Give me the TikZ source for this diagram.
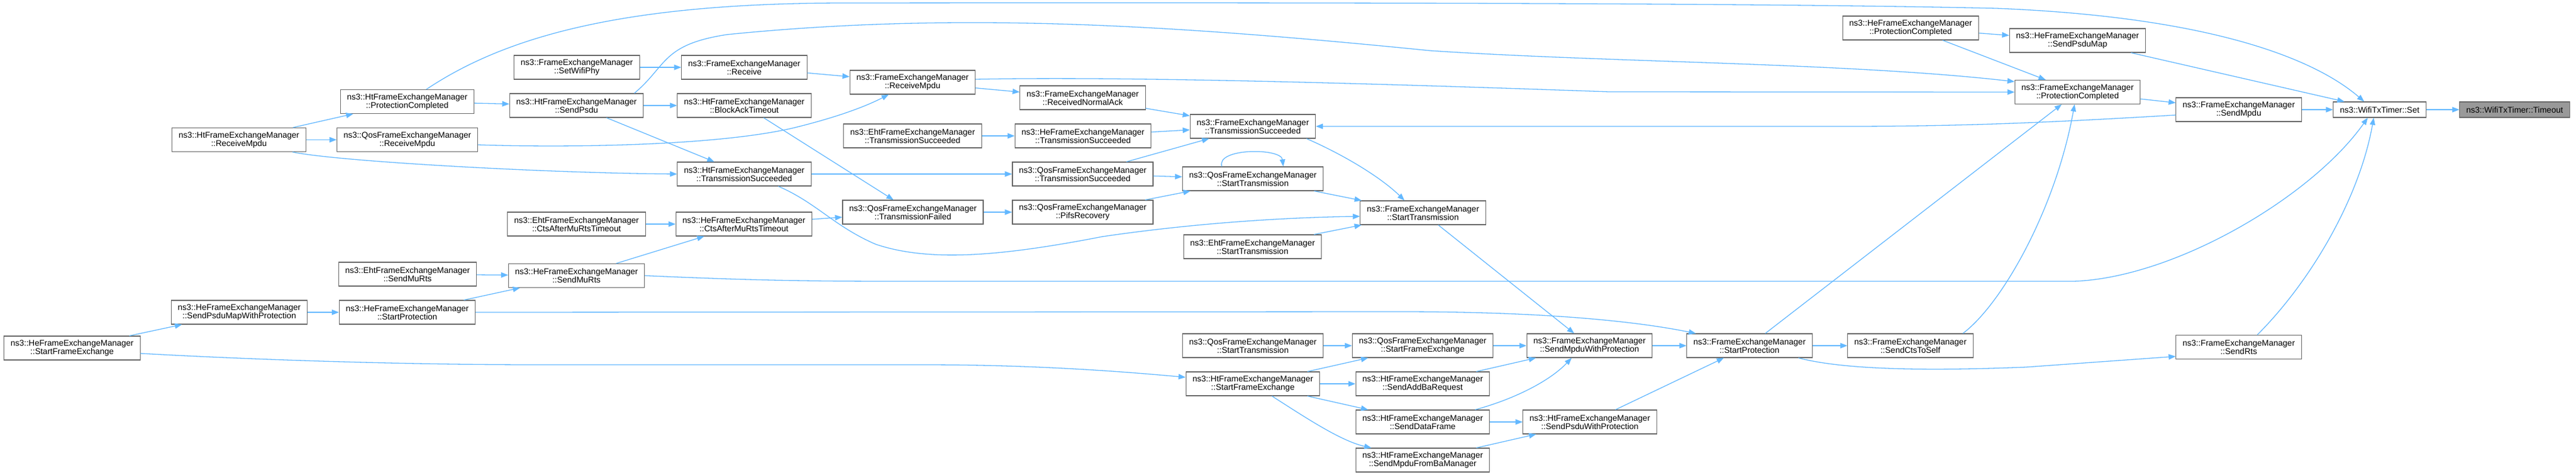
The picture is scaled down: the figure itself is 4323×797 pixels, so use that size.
\documentclass[tikz,border=0pt]{standalone}
\usepackage{fontspec}
\setmainfont{Liberation Sans}
\usepackage{tikz}
\usetikzlibrary{arrows.meta}
\definecolor{edgeblue}{HTML}{63B8FF}
\definecolor{boxgray}{HTML}{666666}
\definecolor{tgtgray}{HTML}{999999}

\begin{document}
\begin{tikzpicture}[x=1pt,y=-1pt,
  fn/.style={draw=boxgray,fill=white,line width=1.1pt,align=center,inner xsep=11pt,inner ysep=2pt,minimum height=40pt,font=\fontsize{14}{14}\selectfont},
  fnone/.style={fn,minimum height=26pt},
  fntarget/.style={fnone,fill=tgtgray},
  call/.style={draw=edgeblue,line width=1.3pt,-{Triangle[length=12pt,width=9pt]}}]
\path[use as bounding box,fill=white] (0,0) rectangle (4323,797);

\node[fn] (HtRecvMpdu) at (401,234.5) {ns3::HtFrameExchangeManager\\::ReceiveMpdu};
\node[fn] (HtProtCompl) at (683.5,170.5) {ns3::HtFrameExchangeManager\\::ProtectionCompleted};
\node[fn] (QosRecvMpdu) at (683.5,234.5) {ns3::QosFrameExchangeManager\\::ReceiveMpdu};
\node[fn] (HeStartFE) at (121,584) {ns3::HeFrameExchangeManager\\::StartFrameExchange};
\node[fn] (HeSendPsduMapWP) at (401.5,524) {ns3::HeFrameExchangeManager\\::SendPsduMapWithProtection};
\node[fn] (HeStartProt) at (683.5,524) {ns3::HeFrameExchangeManager\\::StartProtection};
\node[fn] (EhtSendMuRts) at (684,460) {ns3::EhtFrameExchangeManager\\::SendMuRts};
\node[fn] (FemSetWifiPhy) at (968,113) {ns3::FrameExchangeManager\\::SetWifiPhy};
\node[fn] (HtSendPsdu) at (967.5,177) {ns3::HtFrameExchangeManager\\::SendPsdu};
\node[fn] (FemReceive) at (1249,113) {ns3::FrameExchangeManager\\::Receive};
\node[fn] (HtBlockAckTO) at (1249,177) {ns3::HtFrameExchangeManager\\::BlockAckTimeout};
\node[fn] (HtTxSucc) at (1249,292) {ns3::HtFrameExchangeManager\\::TransmissionSucceeded};
\node[fn] (EhtCtsAfter) at (967.5,376) {ns3::EhtFrameExchangeManager\\::CtsAfterMuRtsTimeout};
\node[fn] (HeCtsAfter) at (1248.5,376) {ns3::HeFrameExchangeManager\\::CtsAfterMuRtsTimeout};
\node[fn] (HeSendMuRts) at (967.5,462.5) {ns3::HeFrameExchangeManager\\::SendMuRts};
\node[fn] (FemRecvMpdu) at (1531.5,138) {ns3::FrameExchangeManager\\::ReceiveMpdu};
\node[fn] (FemRecvNormalAck) at (1817,164) {ns3::FrameExchangeManager\\::ReceivedNormalAck};
\node[fn] (EhtTxSucc) at (1531.5,228) {ns3::EhtFrameExchangeManager\\::TransmissionSucceeded};
\node[fn] (HeTxSucc) at (1817.5,228) {ns3::HeFrameExchangeManager\\::TransmissionSucceeded};
\node[fn] (QosTxSucc) at (1817,292) {ns3::QosFrameExchangeManager\\::TransmissionSucceeded};
\node[fn] (QosTxFailed) at (1532,356) {ns3::QosFrameExchangeManager\\::TransmissionFailed};
\node[fn] (QosPifsRecovery) at (1817,356) {ns3::QosFrameExchangeManager\\::PifsRecovery};
\node[fn] (FemTxSucc) at (2102.5,212) {ns3::FrameExchangeManager\\::TransmissionSucceeded};
\node[fn] (QosStartTx) at (2102.5,300) {ns3::QosFrameExchangeManager\\::StartTransmission};
\node[fn] (EhtStartTx) at (2102,414) {ns3::EhtFrameExchangeManager\\::StartTransmission};
\node[fn] (FemStartTx) at (2388,357) {ns3::FrameExchangeManager\\::StartTransmission};
\node[fn] (QosStartTxB) at (2102.5,580) {ns3::QosFrameExchangeManager\\::StartTransmission};
\node[fn] (HtStartFE) at (2102.5,644) {ns3::HtFrameExchangeManager\\::StartFrameExchange};
\node[fn] (QosStartFE) at (2387.5,580) {ns3::QosFrameExchangeManager\\::StartFrameExchange};
\node[fn] (HtSendAddBa) at (2387.5,644) {ns3::HtFrameExchangeManager\\::SendAddBaRequest};
\node[fn] (HtSendDataFrame) at (2387.5,708) {ns3::HtFrameExchangeManager\\::SendDataFrame};
\node[fn] (HtSendMpduFromBa) at (2387.5,772) {ns3::HtFrameExchangeManager\\::SendMpduFromBaManager};
\node[fn] (FemSendMpduWP) at (2667.5,580) {ns3::FrameExchangeManager\\::SendMpduWithProtection};
\node[fn] (HtSendPsduWP) at (2668,708) {ns3::HtFrameExchangeManager\\::SendPsduWithProtection};
\node[fn] (HeProtCompl) at (3206.5,47) {ns3::HeFrameExchangeManager\\::ProtectionCompleted};
\node[fn] (HeSendPsduMap) at (3486.5,68) {ns3::HeFrameExchangeManager\\::SendPsduMap};
\node[fn] (FemProtCompl) at (3486.5,154.5) {ns3::FrameExchangeManager\\::ProtectionCompleted};
\node[fn] (FemStartProt) at (2936,580) {ns3::FrameExchangeManager\\::StartProtection};
\node[fn] (FemSendCtsToSelf) at (3206,580) {ns3::FrameExchangeManager\\::SendCtsToSelf};
\node[fn] (FemSendMpdu) at (3757,184) {ns3::FrameExchangeManager\\::SendMpdu};
\node[fnone] (TimerSet) at (3993.5,184) {ns3::WifiTxTimer::Set};
\node[fntarget] (TimerTimeout) at (4220,184) {ns3::WifiTxTimer::Timeout};
\node[fn] (FemSendRts) at (3757,582.5) {ns3::FrameExchangeManager\\::SendRts};

\draw[call] (TimerSet) -- (TimerTimeout);
\draw[call] (FemSendMpdu) -- (TimerSet);
\draw[call] (HeSendPsduMap) -- (TimerSet);
\draw[call] (FemProtCompl) -- (FemSendMpdu);
\draw[call] (HeProtCompl) -- (HeSendPsduMap);
\draw[call] (HeProtCompl) -- (FemProtCompl);
\draw[call] (FemStartProt) -- (FemProtCompl);
\draw[call] (FemStartProt) -- (FemSendCtsToSelf);
\draw[call] (FemSendMpduWP) -- (FemStartProt);
\draw[call] (HtSendPsduWP) -- (FemStartProt);
\draw[call] (QosStartFE) -- (FemSendMpduWP);
\draw[call] (HtSendAddBa) -- (FemSendMpduWP);
\draw[call] (FemStartTx) -- (FemSendMpduWP);
\draw[call] (HtSendDataFrame) -- (HtSendPsduWP);
\draw[call] (HtSendMpduFromBa) -- (HtSendPsduWP);
\draw[call] (QosStartTxB) -- (QosStartFE);
\draw[call] (HtStartFE) -- (QosStartFE);
\draw[call] (HtStartFE) -- (HtSendAddBa);
\draw[call] (HtStartFE) -- (HtSendDataFrame);
\draw[call] (HeStartFE) -- (HeSendPsduMapWP);
\draw[call] (HeSendPsduMapWP) -- (HeStartProt);
\draw[call] (HeStartProt) -- (HeSendMuRts);
\draw[call] (EhtSendMuRts) -- (HeSendMuRts);
\draw[call] (HeSendMuRts) -- (HeCtsAfter);
\draw[call] (EhtCtsAfter) -- (HeCtsAfter);
\draw[call] (HeCtsAfter) -- (QosTxFailed);
\draw[call] (HtBlockAckTO) -- (QosTxFailed);
\draw[call] (QosTxFailed) -- (QosPifsRecovery);
\draw[call] (QosPifsRecovery) -- (QosStartTx);
\draw[call] (QosTxSucc) -- (QosStartTx);
\draw[call] (QosStartTx) -- (FemStartTx);
\draw[call] (EhtStartTx) -- (FemStartTx);
\draw[call] (QosTxSucc) -- (FemTxSucc);
\draw[call] (HeTxSucc) -- (FemTxSucc);
\draw[call] (FemRecvNormalAck) -- (FemTxSucc);
\draw[call] (EhtTxSucc) -- (HeTxSucc);
\draw[call] (FemRecvMpdu) -- (FemRecvNormalAck);
\draw[call] (HtTxSucc) -- (QosTxSucc);
\draw[call] (FemReceive) -- (FemRecvMpdu);
\draw[call] (FemSetWifiPhy) -- (FemReceive);
\draw[call] (HtSendPsdu) -- (HtBlockAckTO);
\draw[call] (HtSendPsdu) -- (HtTxSucc);
\draw[call] (HtProtCompl) -- (HtSendPsdu);
\draw[call] (HtRecvMpdu) -- (HtProtCompl);
\draw[call] (HtRecvMpdu) -- (QosRecvMpdu);

\draw[call] ([xshift=32pt]HtProtCompl.north) .. controls (850,60) and (1050,5) .. (1420,5) .. controls (2400,4) and (3000,6) .. (3350,14) .. controls (3700,28) and (3880,95) .. ([xshift=-26pt]TimerSet.north);
\draw[call] ([xshift=31pt]FemSendRts.north) .. controls (3880,470) and (3960,330) .. ([xshift=-10pt]TimerSet.south);
\draw[call] (HeSendMuRts.east) .. controls (1250,470) and (1350,472) .. (1500,472) -- (3480,472) .. controls (3650,466) and (3880,330) .. ([xshift=-20pt]TimerSet.south);
\draw[call] ([xshift=97pt]HtSendPsdu.north) .. controls (1120,110) and (1110,75) .. (1220,58) .. controls (1600,20) and (1950,40) .. (2400,85) .. controls (2700,105) and (3100,105) .. ([yshift=17.5pt]FemProtCompl.west);
\draw[call] ([yshift=5pt]FemRecvMpdu.east) .. controls (1900,128) and (2300,140) .. (2700,154) -- (FemProtCompl.west);
\draw[call] ([xshift=88pt]FemSendCtsToSelf.north) .. controls (3360,510) and (3450,350) .. ([xshift=-5pt]FemProtCompl.south);
\draw[call] ([yshift=-9pt]FemSendMpdu.west) .. controls (3450,205) and (3300,212) .. (3100,212) -- (FemTxSucc.east);
\draw[call] ([xshift=82pt]FemStartProt.south) .. controls (3100,622) and (3250,622) .. (3400,616) -- ([yshift=-15.5pt]FemSendRts.west);
\draw[call] (HeStartProt.east) -- (2350,523) .. controls (2600,523) and (2750,540) .. ([xshift=-90pt]FemStartProt.north);
\draw[call] ([xshift=88pt]HtSendDataFrame.north) .. controls (2540,670) and (2600,640) .. ([xshift=-30pt]FemSendMpduWP.south);
\draw[call] ([xshift=32pt]HtStartFE.south) .. controls (2190,700) and (2250,740) .. ([xshift=-86pt]HtSendMpduFromBa.north);
\draw[call] ([yshift=-9pt]HeStartFE.east) .. controls (450,605) and (700,612) .. (900,612) -- (1550,612) .. controls (1750,612) and (1900,625) .. ([yshift=11pt]HtStartFE.west);
\draw[call] ([xshift=-52pt]QosStartTx.north) .. controls (2040,248) and (2150,248) .. ([xshift=51pt]QosStartTx.north);
\draw[call] ([xshift=57pt]HtTxSucc.south) .. controls (1370,340) and (1400,380) .. (1470,410) .. controls (1560,440) and (1680,430) .. (1850,397) .. controls (2000,375) and (2150,365) .. ([yshift=-6pt]FemStartTx.west);
\draw[call] ([xshift=90pt]FemTxSucc.south) .. controls (2260,262) and (2320,300) .. ([xshift=-31pt]FemStartTx.north);
\draw[call] ([yshift=-8.5pt]QosRecvMpdu.east) .. controls (950,248) and (1200,245) .. (1330,215) .. controls (1400,198) and (1450,180) .. ([xshift=-40pt]FemRecvMpdu.south);
\draw[call] ([xshift=90pt]HtRecvMpdu.south) .. controls (560,270) and (900,290) .. (HtTxSucc.west);
\end{tikzpicture}
\end{document}
